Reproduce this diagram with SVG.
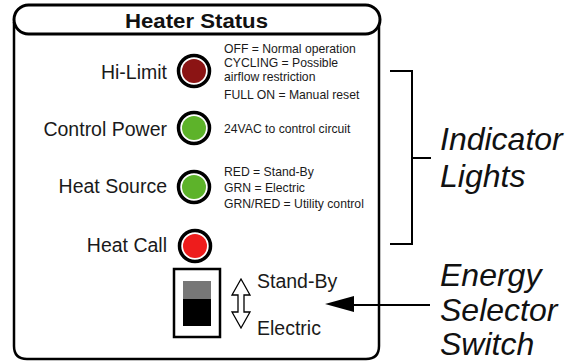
<svg xmlns="http://www.w3.org/2000/svg" width="568" height="362" viewBox="0 0 568 362">
<style>
.lbl{font-family:"Liberation Sans",Arial,sans-serif;font-size:19.5px;fill:#1a1a1a}
.desc{font-family:"Liberation Sans",Arial,sans-serif;font-size:12.2px;fill:#1a1a1a}
.call{font-family:"Liberation Sans",Arial,sans-serif;font-size:32px;font-style:italic;fill:#111}
.ring{fill:#fff;stroke:#000;stroke-width:3.5}
.line{fill:none;stroke:#000;stroke-width:2.5}
</style>
<rect width="568" height="362" fill="#fff"/>
<g id="panel">
<path class="line" d="M14,22 V346 Q14,359 27,359 H366 Q379,359 379,346 V22" stroke-width="3"/>
<rect x="14" y="5" width="366" height="29" rx="14.5" fill="#fff" stroke="#000" stroke-width="3"/>
<text x="196.5" y="28" text-anchor="middle" font-family="'Liberation Sans',Arial,sans-serif" font-weight="bold" font-size="20" textLength="143" lengthAdjust="spacingAndGlyphs" fill="#111">Heater Status</text>
</g>
<g id="hi-limit">
<text class="lbl" x="167" y="79" text-anchor="end">Hi-Limit</text>
<circle class="ring" cx="194" cy="71" r="15.5"/>
<circle cx="194" cy="71" r="12" fill="#8b1414"/>
<text class="desc" x="224" y="53">OFF = Normal operation</text>
<text class="desc" x="224" y="67">CYCLING = Possible</text>
<text class="desc" x="224" y="81">airflow restriction</text>
<text class="desc" x="224" y="99">FULL ON = Manual reset</text>
</g>
<g id="control-power">
<text class="lbl" x="167" y="136" text-anchor="end">Control Power</text>
<circle class="ring" cx="194" cy="128" r="15.5"/>
<circle cx="194" cy="128" r="12" fill="#5db32a"/>
<text class="desc" x="224" y="133">24VAC to control circuit</text>
</g>
<g id="heat-source">
<text class="lbl" x="167" y="193" text-anchor="end">Heat Source</text>
<circle class="ring" cx="194" cy="187" r="15.5"/>
<circle cx="194" cy="187" r="12" fill="#5db32a"/>
<text class="desc" x="224" y="176">RED = Stand-By</text>
<text class="desc" x="224" y="192">GRN = Electric</text>
<text class="desc" x="224" y="208">GRN/RED = Utility control</text>
</g>
<g id="heat-call">
<text class="lbl" x="167" y="252" text-anchor="end">Heat Call</text>
<circle class="ring" cx="195" cy="246" r="15.5"/>
<circle cx="195" cy="246" r="12" fill="#ee1c1c"/>
</g>
<g id="switch">
<rect x="174" y="269" width="46" height="68" fill="#fff" stroke="#000" stroke-width="2.5"/>
<rect x="183" y="281" width="28" height="18" fill="#777"/>
<rect x="183" y="299" width="28" height="27" fill="#000"/>
<path d="M241,279 L250,295 L244,295 L244,312 L250,312 L241,328 L232,312 L238,312 L238,295 L232,295 Z" fill="#fff" stroke="#000" stroke-width="1.3" stroke-linejoin="miter"/>
<text class="lbl" x="257" y="288">Stand-By</text>
<text class="lbl" x="257" y="335">Electric</text>
</g>
<g id="indicator-lights">
<text class="call" x="440" y="150">Indicator</text>
<text class="call" x="440" y="187">Lights</text>
</g>
<g id="energy-selector">
<text class="call" x="440" y="286">Energy</text>
<text class="call" x="440" y="321">Selector</text>
<text class="call" x="440" y="355">Switch</text>
</g>
<g id="connectors">
<path d="M390,71 H412 V244 H390 M412,158 H431" fill="none" stroke="#000" stroke-width="2"/>
<path d="M430,305 H350" fill="none" stroke="#000" stroke-width="2"/>
<path d="M325,304 L354,296 L354,312 Z" fill="#000"/>
</g>
</svg>
